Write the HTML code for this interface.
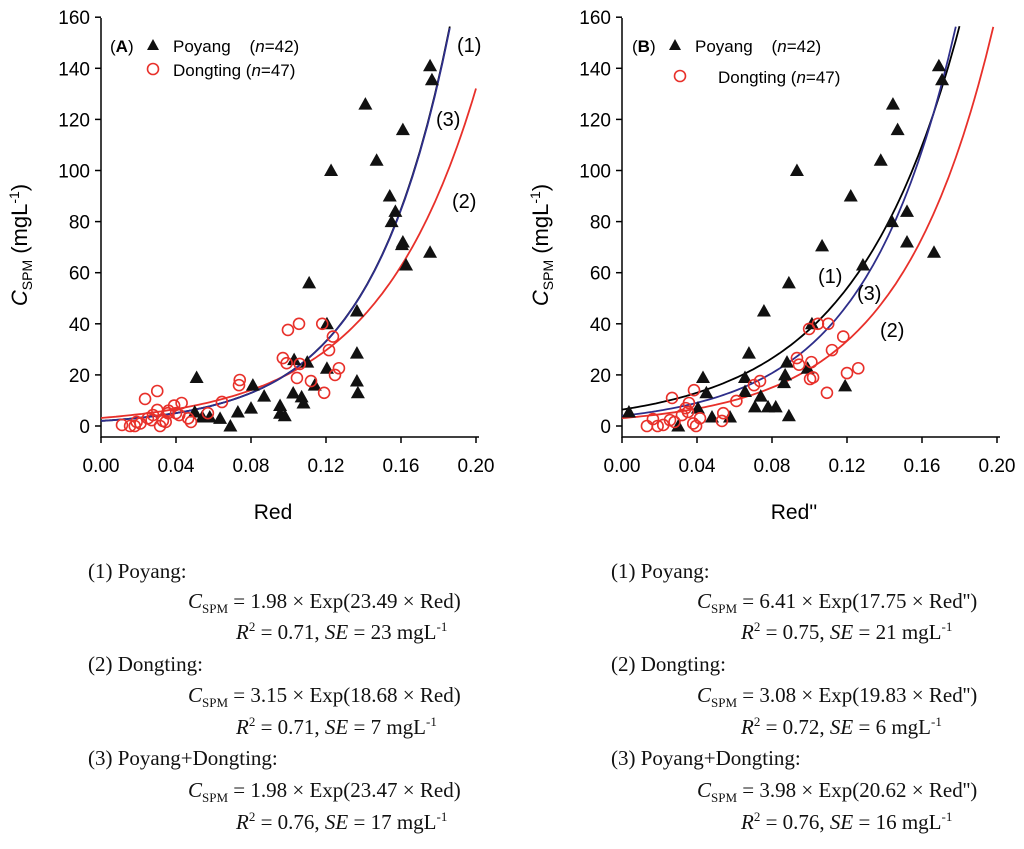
<!DOCTYPE html>
<html><head><meta charset="utf-8"><style>
body{margin:0;background:#fff;width:1024px;height:849px;overflow:hidden;position:relative;font-family:"Liberation Sans",sans-serif}
.eq{position:absolute;font-family:"Liberation Serif",serif;font-size:21px;color:#111;white-space:nowrap}
sub,sup{font-size:13px}
</style></head><body>
<svg id="chart" width="1024" height="540" style="position:absolute;left:0;top:0" font-family="Liberation Sans, sans-serif"></svg>

<div class="eq" style="left:88px;top:559px">(1) Poyang:</div>
<div class="eq" style="left:188px;top:589px"><i>C</i><sub>SPM</sub> = 1.98 × Exp(23.49 × Red)</div>
<div class="eq" style="left:236px;top:619px"><i>R</i><sup>2</sup> = 0.71, <i>SE</i> = 23 mgL<sup>-1</sup></div>
<div class="eq" style="left:88px;top:652px">(2) Dongting:</div>
<div class="eq" style="left:188px;top:683px"><i>C</i><sub>SPM</sub> = 3.15 × Exp(18.68 × Red)</div>
<div class="eq" style="left:236px;top:714px"><i>R</i><sup>2</sup> = 0.71, <i>SE</i> = 7 mgL<sup>-1</sup></div>
<div class="eq" style="left:88px;top:746px">(3) Poyang+Dongting:</div>
<div class="eq" style="left:188px;top:778px"><i>C</i><sub>SPM</sub> = 1.98 × Exp(23.47 × Red)</div>
<div class="eq" style="left:236px;top:809px"><i>R</i><sup>2</sup> = 0.76, <i>SE</i> = 17 mgL<sup>-1</sup></div>

<div class="eq" style="left:611px;top:559px">(1) Poyang:</div>
<div class="eq" style="left:697px;top:589px"><i>C</i><sub>SPM</sub> = 6.41 × Exp(17.75 × Red'')</div>
<div class="eq" style="left:741px;top:619px"><i>R</i><sup>2</sup> = 0.75, <i>SE</i> = 21 mgL<sup>-1</sup></div>
<div class="eq" style="left:611px;top:652px">(2) Dongting:</div>
<div class="eq" style="left:697px;top:683px"><i>C</i><sub>SPM</sub> = 3.08 × Exp(19.83 × Red'')</div>
<div class="eq" style="left:741px;top:714px"><i>R</i><sup>2</sup> = 0.72, <i>SE</i> = 6 mgL<sup>-1</sup></div>
<div class="eq" style="left:611px;top:746px">(3) Poyang+Dongting:</div>
<div class="eq" style="left:697px;top:778px"><i>C</i><sub>SPM</sub> = 3.98 × Exp(20.62 × Red'')</div>
<div class="eq" style="left:741px;top:809px"><i>R</i><sup>2</sup> = 0.76, <i>SE</i> = 16 mgL<sup>-1</sup></div>

<script>
const xTicks=[0,0.04,0.08,0.12,0.16,0.20];
const yTicks=[0,20,40,60,80,100,120,140,160];
const aPoyangX=[.1755,.1765,.141,.161,.147,.1227,.154,.157,.155,.161,.1605,.1627,.1755,.111,.1365,.1205,.1365,.051,.1365,.137,.1205,.103,.081,.087,.1025,.107,.108,.114,.0955,.0955,.098,.080,.073,.069,.0635,.058,.054,.050,.110];
const aPoyangY=[141,135.5,126,116,104,100,90,84,80,72,71,63,68,56,45,40,28.5,19,17.6,13,22.6,26,16,11.7,12.9,11.4,9,16,8,5,4,7,5.5,0,3,3.5,3.5,5.5,25];
const aDongX=[.0112,.0155,.018,.021,.0235,.027,.030,.030,.0315,.0345,.0357,.039,.043,.0417,.0465,.048,.057,.0645,.0736,.074,.097,.099,.0997,.1056,.1045,.106,.112,.118,.119,.1216,.1237,.1248,.1269,.019,.0277,.040,.025,.033,.036];
const aDongY=[.4,0,0,1,10.6,2.3,13.7,6.3,0,1.6,5,8,9,4.3,3,1.6,5,9.4,16,18,26.6,24.6,37.6,40,18.8,24.3,17.6,40,13,29.7,35,20,22.6,1.6,4.3,5,3,2,6];
const bPoyangX=[.169,.1707,.1445,.147,.0933,.138,.122,.144,.152,.152,.1664,.1067,.1285,.089,.0757,.0677,.0432,.0656,.087,.088,.1013,.0864,.045,.0656,.074,.0709,.0779,.082,.089,.119,.0576,.048,.0405,.030,.0037,.099];
const bPoyangY=[141,135.5,126,116,100,104,90,80,84,72,68,70.5,63,56,45,28.5,19,19,20,25,40,17,13,13.5,11.7,7.5,7.5,7.5,4,15.7,3.5,3.5,7,0,5.5,22.6];
const bDongX=[.0133,.0165,.019,.0256,.0267,.032,.0357,.0384,.0395,.0416,.0352,.054,.0533,.061,.0704,.0736,.0933,.0944,.0998,.1045,.11,.101,.1003,.1019,.1093,.112,.118,.12,.126,.022,.028,.034,.038];
const bDongY=[0,2.7,0,2.3,11,4.3,9,14,0,3,5.5,5,2,9.8,16,17.6,26.6,24,38,40,40,25,18.4,19,13,29.7,35,20.7,22.6,.4,1.6,7,1];
const aCurveA=[1.98,3.15,1.98], aCurveB=[23.49,18.68,23.47];
const bCurveA=[6.41,3.08,3.98], bCurveB=[17.75,19.83,20.62];

const svg=document.getElementById('chart');const NS='http://www.w3.org/2000/svg';
function mk(tag,attrs,parent){const e=document.createElementNS(NS,tag);for(const k in attrs)e.setAttribute(k,attrs[k]);(parent||svg).appendChild(e);return e;}
function panel(x0,pref,xlab,pX,pY,dX,dY,cA,cB,colors,cLabels){
  const sx=v=>x0+v*1875, sy=v=>426-v*2.555;
  const g=mk('g',{});
  
  
  const ax=mk('path',{d:`M${x0} 18V437H${x0+378}`,stroke:'#000','stroke-width':1.5,fill:'none'},g);
  
  
  xTicks.forEach(t=>{mk('line',{x1:sx(t),x2:sx(t),y1:437,y2:443,stroke:'#000','stroke-width':1.5},g);
    const tx=mk('text',{x:sx(t),y:472,'font-size':19,'text-anchor':'middle'},g);tx.textContent=t.toFixed(2);
    
    });
  yTicks.forEach(t=>{mk('line',{x1:x0-6,x2:x0,y1:sy(t),y2:sy(t),stroke:'#000','stroke-width':1.5},g);
    const tx=mk('text',{x:x0-11,y:sy(t)+7,'font-size':19,'text-anchor':'end'},g);tx.textContent=t;
    
    });
  const xl=mk('text',{x:x0+172,y:519,'font-size':21,'text-anchor':'middle'},g);xl.textContent=xlab;
  
  
  const yl=mk('text',{transform:`translate(${x0-74},245) rotate(-90)`,'font-size':22,'text-anchor':'middle'},g);
  yl.innerHTML='<tspan font-style="italic">C</tspan><tspan font-size="14" dy="5">SPM</tspan><tspan dy="-5"> (mgL</tspan><tspan font-size="14" dy="-8">-1</tspan><tspan dy="8">)</tspan>';
  
  
  cA.forEach((a,i)=>{let d='';for(let v=0;v<=0.2001;v+=0.002){const y=a*Math.exp(cB[i]*v);if(y>160)break;d+=(d?'L':'M')+sx(v).toFixed(1)+' '+sy(y).toFixed(1);}
    const p=mk('path',{d,stroke:colors[i],'stroke-width':1.8,fill:'none'},g);
    
    });
  pX.forEach((v,i)=>{const cx=sx(v),cy=sy(pY[i]);const t=mk('path',{d:`M${cx} ${cy-7}L${cx+7} ${cy+5.5}L${cx-7} ${cy+5.5}Z`,fill:'#111'},g);
    
    });
  dX.forEach((v,i)=>{const c=mk('circle',{cx:sx(v),cy:sy(dY[i]),r:5.5,fill:'none',stroke:'#e8302a','stroke-width':1.6},g);
    
    });
  cLabels.forEach(l=>{const t=mk('text',{x:l[1],y:l[2],'font-size':20},g);t.textContent=l[0];
    
    });
  return {g,sx,sy};
}
const A=panel(101,'a','Red',aPoyangX,aPoyangY,aDongX,aDongY,aCurveA,aCurveB,['#000','#e8302a','#2e2e8a'],[['(1)',457,52],['(3)',436,126],['(2)',452,208]]);
const B=panel(622,'b',"Red''",bPoyangX,bPoyangY,bDongX,bDongY,bCurveA,bCurveB,['#000','#e8302a','#2e2e8a'],[['(1)',818,283],['(3)',857,300],['(2)',880,337]]);
function legend(g,pref,lbl,x){
  const t=mk('text',{x:x,y:52,'font-size':17},g);t.innerHTML='(<tspan font-weight="bold">'+lbl+'</tspan>)';
  
  
  const tri=mk('path',{d:`M${x+43} 39L${x+49} 50L${x+37} 50Z`,fill:'#111'},g);
  
  
  const t1=mk('text',{x:x+63,y:52,'font-size':17},g);t1.innerHTML='Poyang &#160;&#160;&#160;(<tspan font-style="italic">n</tspan>=42)';
  
  
  const c=mk('circle',{cx:x+43+(lbl=='B'?5:0),cy:69+(lbl=='B'?7:0),r:5.5,fill:'none',stroke:'#e8302a','stroke-width':1.6},g);
  
  
  const t2=mk('text',{x:x+63+(lbl=='B'?23:0),y:76+(lbl=='B'?7:0),'font-size':17},g);t2.innerHTML='Dongting (<tspan font-style="italic">n</tspan>=47)';
  
  
}
legend(A.g,'a','A',110);
legend(B.g,'b','B',632);
</script>
</body></html>
